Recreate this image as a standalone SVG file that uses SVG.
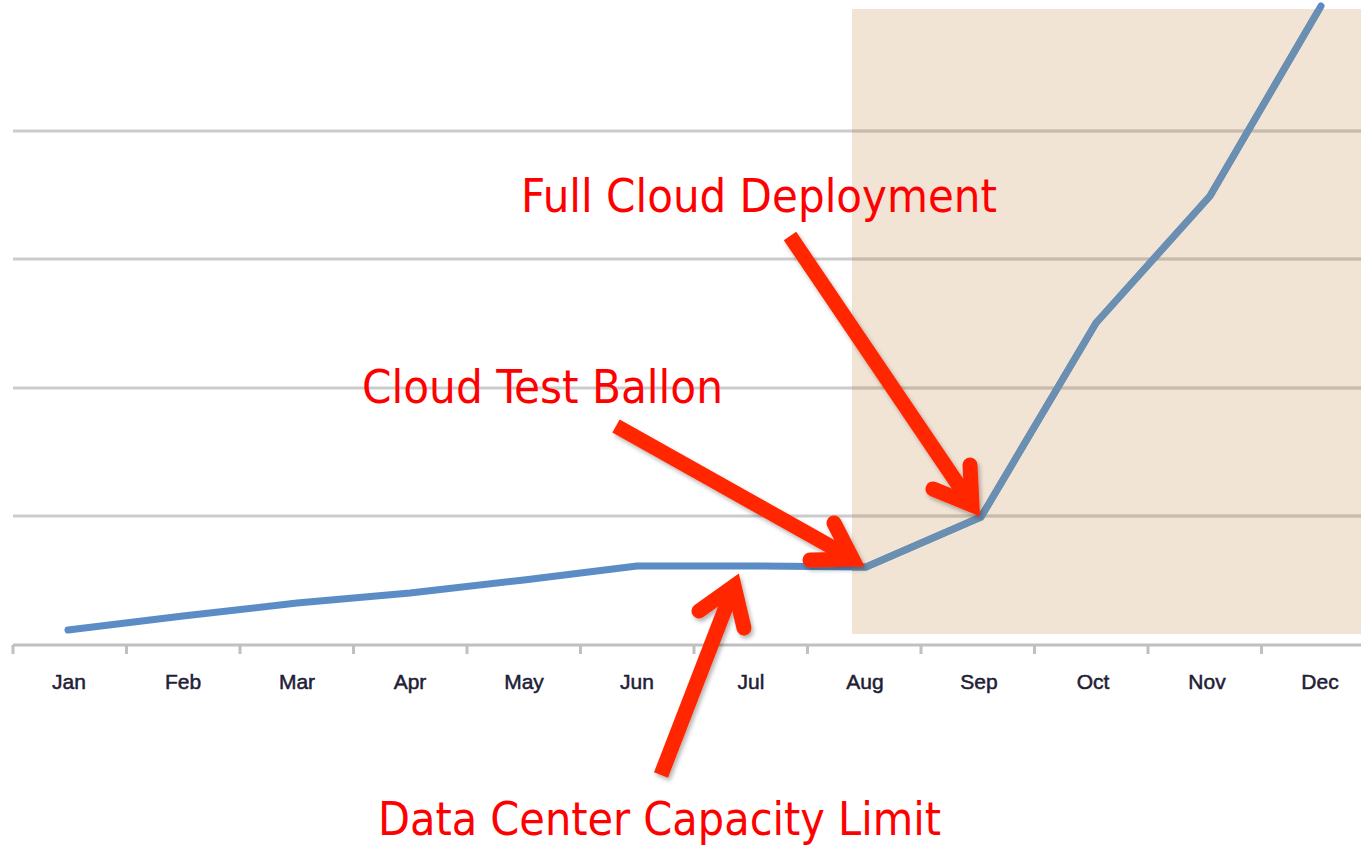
<svg xmlns="http://www.w3.org/2000/svg" width="1361" height="845" viewBox="0 0 1361 845">
  <style>
    .grid { stroke: #cbcbcb; stroke-width: 3; fill: none; }
    .grid-s { stroke: #c9baa9; stroke-width: 3; fill: none; }
    .axis { stroke: #c0c0c0; stroke-width: 3; fill: none; }
    .series { stroke: #5b8cc6; stroke-width: 7; fill: none; stroke-linejoin: round; stroke-linecap: round; }
    .series-s { stroke: #6b8fb0; stroke-width: 7; fill: none; stroke-linejoin: round; stroke-linecap: round; }
    .month { font-family: "Liberation Sans", Arial, sans-serif; font-size: 21px; fill: #1e2036; stroke: #1e2036; stroke-width: 0.5; text-anchor: middle; }
    .label { font-family: "DejaVu Sans Condensed", "DejaVu Sans", sans-serif; font-stretch: condensed; font-size: 46px; fill: #ff0000; }
    .shaft { stroke: #ff2600; stroke-width: 15; fill: none; stroke-linecap: butt; }
    .head { stroke: #ff2600; stroke-width: 15; fill: none; stroke-linecap: round; stroke-linejoin: miter; stroke-miterlimit: 6; }
  </style>
  <defs>
    <clipPath id="shadeClip">
      <rect x="852" y="9" width="509" height="625"/>
    </clipPath>
    <filter id="shadow" x="-20%" y="-20%" width="140%" height="140%">
      <feDropShadow dx="2" dy="3" stdDeviation="2" flood-color="#000" flood-opacity="0.3"/>
    </filter>
  </defs>
  <rect width="1361" height="845" fill="#ffffff"/>

  <g id="chart">
    <rect id="forecast-shade" x="852" y="9" width="509" height="625" fill="#f2e4d5"/>
    <g id="gridlines">
      <line class="grid" x1="13" y1="131" x2="1361" y2="131"/>
      <line class="grid" x1="13" y1="259" x2="1361" y2="259"/>
      <line class="grid" x1="13" y1="388" x2="1361" y2="388"/>
      <line class="grid" x1="13" y1="516" x2="1361" y2="516"/>
      <g clip-path="url(#shadeClip)">
        <line class="grid-s" x1="13" y1="131" x2="1361" y2="131"/>
        <line class="grid-s" x1="13" y1="259" x2="1361" y2="259"/>
        <line class="grid-s" x1="13" y1="388" x2="1361" y2="388"/>
        <line class="grid-s" x1="13" y1="516" x2="1361" y2="516"/>
      </g>
    </g>
    <g id="x-axis">
      <line class="axis" x1="13" y1="645" x2="1361" y2="645"/>
      <path class="axis" d="M13,645V654 M126.5,645V654 M240,645V654 M353.5,645V654 M467,645V654 M580.5,645V654 M694,645V654 M807.5,645V654 M921,645V654 M1034.5,645V654 M1148,645V654 M1261.5,645V654"/>
      <text class="month" x="69" y="689">Jan</text>
      <text class="month" x="183" y="689">Feb</text>
      <text class="month" x="297" y="689">Mar</text>
      <text class="month" x="410" y="689">Apr</text>
      <text class="month" x="524" y="689">May</text>
      <text class="month" x="637" y="689">Jun</text>
      <text class="month" x="751" y="689">Jul</text>
      <text class="month" x="865" y="689">Aug</text>
      <text class="month" x="979" y="689">Sep</text>
      <text class="month" x="1093" y="689">Oct</text>
      <text class="month" x="1207" y="689">Nov</text>
      <text class="month" x="1320" y="689">Dec</text>
    </g>
    <g id="series-line">
      <polyline class="series" points="68,630 183,616 297,603 410,593 524,580 637,566 751,566 866,567 981,517 1096,323 1210,196 1321,6"/>
      <g clip-path="url(#shadeClip)">
        <polyline class="series-s" points="68,630 183,616 297,603 410,593 524,580 637,566 751,566 866,567 981,517 1096,323 1210,196 1321,6"/>
      </g>
    </g>
  </g>

  <g id="connectors" filter="url(#shadow)">
    <g id="arrow-test-ballon">
      <line class="shaft" x1="616" y1="426" x2="853" y2="559"/>
      <polyline class="head" points="834,523 852.6,559.3 810,560"/>
    </g>
    <g id="arrow-full-cloud">
      <line class="shaft" x1="790" y1="236" x2="972" y2="505"/>
      <polyline class="head" points="970,465 972,505 933,489"/>
    </g>
    <g id="arrow-capacity">
      <line class="shaft" x1="661" y1="775" x2="734" y2="586"/>
      <polyline class="head" points="699,611 734.1,586 744,628"/>
    </g>
  </g>

  <g id="label-full-cloud">
    <text class="label" x="521" y="212" textLength="476" lengthAdjust="spacingAndGlyphs">Full Cloud Deployment</text>
  </g>
  <g id="label-test-ballon">
    <text class="label" x="362" y="403" textLength="361" lengthAdjust="spacingAndGlyphs">Cloud Test Ballon</text>
  </g>
  <g id="label-capacity">
    <text class="label" x="378" y="835" textLength="563" lengthAdjust="spacingAndGlyphs">Data Center Capacity Limit</text>
  </g>
</svg>
